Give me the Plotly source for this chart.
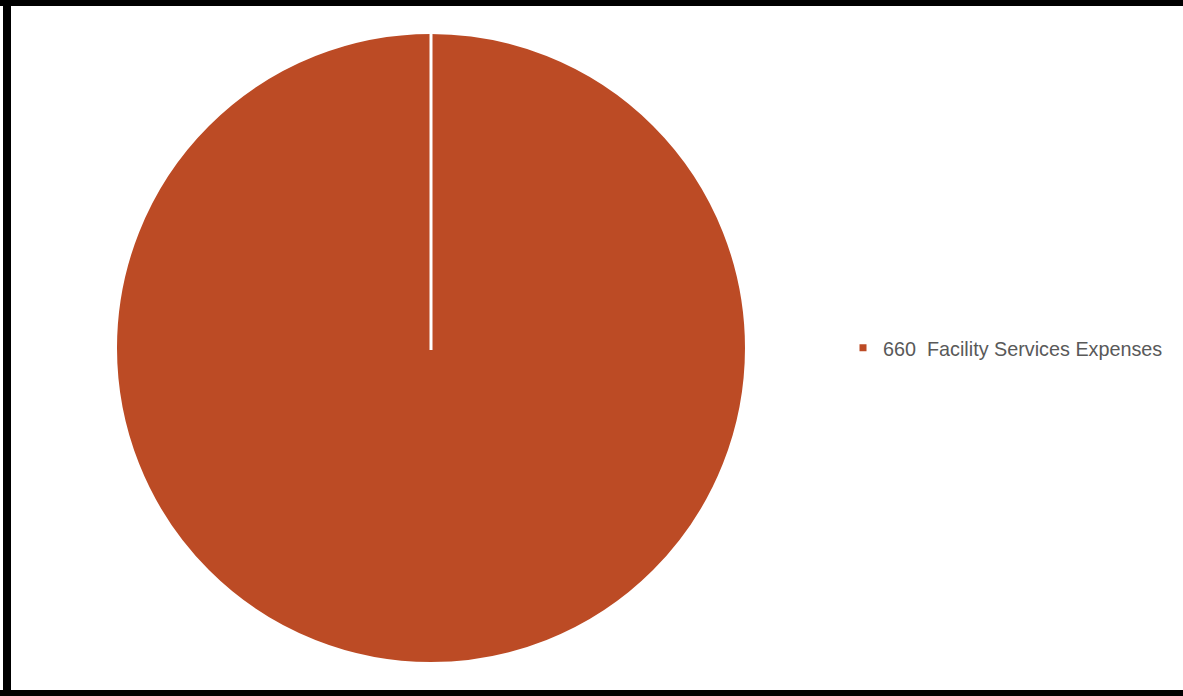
import plotly.graph_objects as go

# Expense breakdown (single category accounts for the whole total)
labels = ["660  Facility Services Expenses"]
values = [100]
colors = ["#BC4B25"]

W, H = 1183, 696

# pie geometry in pixels
cx_px, cy_px, r_px = 431, 348, 314
pad = 2.5  # half of the white slice outline

dom_x = [(cx_px - r_px - pad) / W, (cx_px + r_px + pad) / W]
dom_y = [1 - (cy_px + r_px + pad) / H, 1 - (cy_px - r_px - pad) / H]

fig = go.Figure(
    go.Pie(
        labels=labels,
        values=values,
        marker=dict(colors=colors, line=dict(color="white", width=5)),
        textinfo="none",
        hoverinfo="label+percent",
        sort=False,
        direction="clockwise",
        rotation=0,
        domain=dict(x=dom_x, y=dom_y),
    )
)

# slice boundary from centre to the 12 o'clock position
cxp = (dom_x[0] + dom_x[1]) / 2
cyp = (dom_y[0] + dom_y[1]) / 2
top = cyp + (r_px) / H
fig.add_shape(type="line", xref="paper", yref="paper",
              x0=cxp, y0=cyp - 2 / H, x1=cxp, y1=top + 1 / H,
              line=dict(color="white", width=3), layer="above")

# black frame around the chart area
frame = dict(color="black")
fig.add_shape(type="line", xref="paper", yref="paper",
              x0=0, x1=1, y0=1 - 3 / H, y1=1 - 3 / H,
              line=dict(frame, width=6))
fig.add_shape(type="line", xref="paper", yref="paper",
              x0=0, x1=1, y0=3 / H, y1=3 / H,
              line=dict(frame, width=6))
fig.add_shape(type="line", xref="paper", yref="paper",
              x0=7 / W, x1=7 / W, y0=0, y1=1,
              line=dict(frame, width=8))

fig.update_layout(
    width=W,
    height=H,
    margin=dict(l=0, r=0, t=0, b=0),
    paper_bgcolor="white",
    plot_bgcolor="white",
    showlegend=True,
    legend=dict(
        x=843 / W,
        xanchor="left",
        y=0.5,
        yanchor="middle",
        font=dict(family="Liberation Sans Narrow, Arial Narrow, Liberation Sans, sans-serif",
                  size=19.8, color="#595959"),
        bgcolor="rgba(0,0,0,0)",
    ),
)

fig.write_html("out.html")
